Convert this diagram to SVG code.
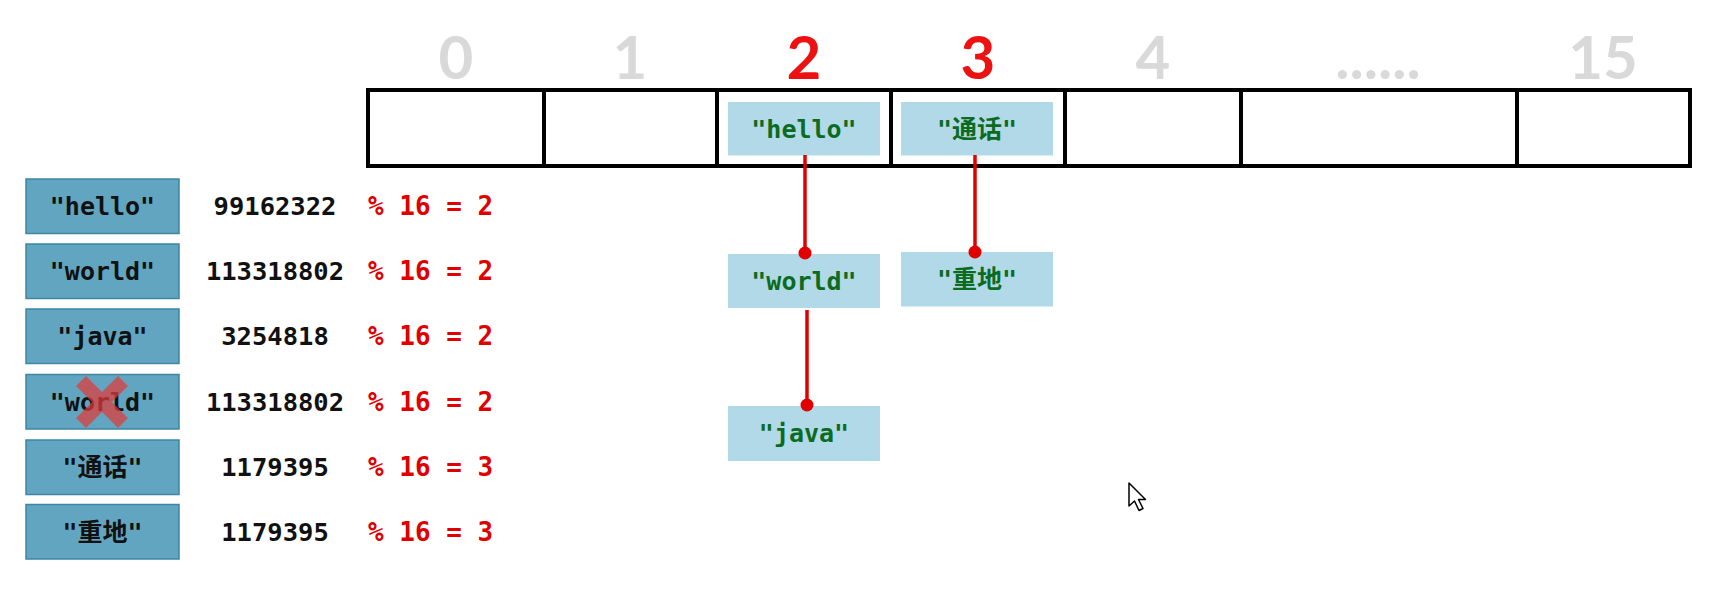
<svg xmlns="http://www.w3.org/2000/svg" width="1717" height="597" viewBox="0 0 1717 597">
<style>
.idx{font-family:Lato,"Liberation Sans",sans-serif;font-weight:700;font-size:60px;text-anchor:middle;fill:#d9d9d9}
.idxr{fill:#ee1111}
.cell{fill:#ffffff;stroke:#000;stroke-width:4}
.lb{fill:#62a5c0;stroke:#3d86a4;stroke-width:1.5}
.nb{fill:#b1d9e8}
.t{font-family:"DejaVu Sans Mono","Noto Sans CJK SC",monospace;font-weight:700;font-size:25px;text-anchor:middle}
.tk{fill:#111}
.tg{fill:#0b6b1f}
.num{font-family:"DejaVu Sans Mono",monospace;font-weight:700;font-size:25.5px;fill:#111;text-anchor:middle}
.mod{font-family:"DejaVu Sans Mono",monospace;font-weight:700;font-size:26px;fill:#e00000}
.con{stroke:#e00000;stroke-width:3.5;fill:none}
.dot{fill:#e00000}
</style>
<rect width="1717" height="597" fill="#ffffff"/>
<g id="indices">
<text class="idx" x="456" y="79">0</text>
<text class="idx" x="630" y="79">1</text>
<text class="idx idxr" x="804" y="79">2</text>
<text class="idx idxr" x="978" y="79">3</text>
<text class="idx" x="1153" y="79">4</text>
<text class="idx" x="1378" y="79">......</text>
<text class="idx" x="1603" y="79">15</text>
</g>
<g id="array">
<rect class="cell" x="368" y="90" width="176" height="76"/>
<rect class="cell" x="544" y="90" width="173" height="76"/>
<rect class="cell" x="717" y="90" width="174" height="76"/>
<rect class="cell" x="891" y="90" width="174" height="76"/>
<rect class="cell" x="1065" y="90" width="176" height="76"/>
<rect class="cell" x="1241" y="90" width="276" height="76"/>
<rect class="cell" x="1517" y="90" width="173" height="76"/>
</g>
<g id="node-hello">
<rect class="nb" x="728" y="102" width="152" height="53.5"/>
<text class="t tg" x="804" y="138">"hello"</text>
</g>
<g id="node-tonghua">
<rect class="nb" x="901" y="102" width="152" height="53.5"/>
<text class="t tg" x="977" y="138">"通话"</text>
</g>
<g id="node-world">
<rect class="nb" x="728" y="254" width="152" height="54"/>
<text class="t tg" x="804" y="290">"world"</text>
</g>
<g id="node-zhongdi">
<rect class="nb" x="901" y="252" width="152" height="54.5"/>
<text class="t tg" x="977" y="288">"重地"</text>
</g>
<g id="node-java">
<rect class="nb" x="728" y="406" width="152" height="55"/>
<text class="t tg" x="804" y="442">"java"</text>
</g>
<g id="connectors">
<line class="con" x1="805" y1="155" x2="805" y2="253"/>
<circle class="dot" cx="805" cy="253" r="6.5"/>
<line class="con" x1="975" y1="155" x2="975" y2="252"/>
<circle class="dot" cx="975" cy="252" r="6.5"/>
<line class="con" x1="807" y1="310" x2="807" y2="405"/>
<circle class="dot" cx="807" cy="405" r="6.5"/>
</g>
<g id="row-hello">
<rect class="lb" x="26" y="179" width="153" height="54.5"/>
<text class="t tk" x="102.5" y="215">"hello"</text>
<text class="num" x="275" y="215">99162322</text>
<text class="mod" x="368" y="215">% 16 = 2</text>
</g>
<g id="row-world">
<rect class="lb" x="26" y="244" width="153" height="54.5"/>
<text class="t tk" x="102.5" y="280">"world"</text>
<text class="num" x="275" y="280">113318802</text>
<text class="mod" x="368" y="280">% 16 = 2</text>
</g>
<g id="row-java">
<rect class="lb" x="26" y="309" width="153" height="54.5"/>
<text class="t tk" x="102.5" y="345">"java"</text>
<text class="num" x="275" y="345">3254818</text>
<text class="mod" x="368" y="345">% 16 = 2</text>
</g>
<g id="row-world2">
<rect class="lb" x="26" y="374.5" width="153" height="54.5"/>
<text class="t tk" x="102.5" y="410.5">"world"</text>
<text class="num" x="275" y="410.5">113318802</text>
<text class="mod" x="368" y="410.5">% 16 = 2</text>
<g opacity="0.72" stroke="#e23b3b" stroke-width="14">
<line x1="81" y1="381" x2="123" y2="423"/>
<line x1="123" y1="381" x2="81" y2="423"/>
</g>
</g>
<g id="row-tonghua">
<rect class="lb" x="26" y="440" width="153" height="54.5"/>
<text class="t tk" x="102.5" y="476">"通话"</text>
<text class="num" x="275" y="476">1179395</text>
<text class="mod" x="368" y="476">% 16 = 3</text>
</g>
<g id="row-zhongdi">
<rect class="lb" x="26" y="504.5" width="153" height="54.5"/>
<text class="t tk" x="102.5" y="540.5">"重地"</text>
<text class="num" x="275" y="540.5">1179395</text>
<text class="mod" x="368" y="540.5">% 16 = 3</text>
</g>
<path d="M1129,483 L1129,506 L1134.5,501 L1139,510.5 L1143,508.5 L1138.5,499.5 L1145.5,499.5 Z" fill="#ffffff" stroke="#000" stroke-width="1.5" stroke-linejoin="round"/>
</svg>
